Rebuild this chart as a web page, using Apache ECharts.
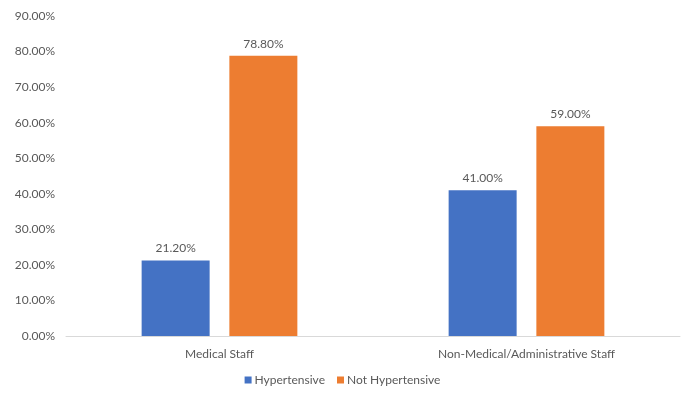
<!DOCTYPE html>
<html>
<head>
<meta charset="utf-8">
<script src="https://cdn.jsdelivr.net/npm/echarts@6/dist/echarts.min.js"></script>
<style>
  html, body { margin: 0; padding: 0; background: #fff; }
  #main { width: 685px; height: 398px; }
</style>
</head>
<body>
<div id="main"></div>
<script>
// chart data
var categories = ['Medical Staff', 'Non-Medical/Administrative Staff'];
var hypertensive = [21.2, 41.0];
var notHypertensive = [78.8, 59.0];

var myChart = echarts.init(document.getElementById('main'));
var textColor = '#595959';
var font = 'Lato, "Noto Sans", sans-serif';

var pctLabel = {
  show: true,
  position: 'top',
  distance: 6,
  color: textColor,
  fontSize: 12,
  fontFamily: font,
  formatter: function (p) { return p.value.toFixed(2) + '%'; }
};

var option = {
  animation: false,
  grid: { left: 66, right: 5, top: 16, bottom: 62 },
  legend: {
    bottom: 7,
    left: 'center',
    itemWidth: 7,
    itemHeight: 7,
    itemGap: 12,
    icon: 'rect',
    textStyle: { color: textColor, fontSize: 12, fontFamily: font, padding: [0, 0, 0, -2] },
    data: ['Hypertensive', 'Not Hypertensive']
  },
  xAxis: {
    type: 'category',
    data: categories,
    axisLine: { lineStyle: { color: '#d9d9d9' } },
    axisTick: { show: false },
    axisLabel: { color: textColor, fontSize: 12, fontFamily: font, margin: 12 }
  },
  yAxis: {
    type: 'value',
    min: 0,
    max: 90,
    interval: 10,
    splitLine: { show: false },
    axisLine: { show: false },
    axisTick: { show: false },
    axisLabel: {
      color: textColor, fontSize: 12, fontFamily: font, margin: 11,
      formatter: function (v) { return v.toFixed(2) + '%'; }
    }
  },
  series: [
    {
      name: 'Hypertensive',
      type: 'bar',
      data: hypertensive,
      barWidth: 68,
      barGap: '29%',
      itemStyle: { color: '#4472C4' },
      label: pctLabel
    },
    {
      name: 'Not Hypertensive',
      type: 'bar',
      data: notHypertensive,
      barWidth: 68,
      itemStyle: { color: '#ED7D31' },
      label: pctLabel
    }
  ]
};
myChart.setOption(option);
</script>
</body>
</html>
